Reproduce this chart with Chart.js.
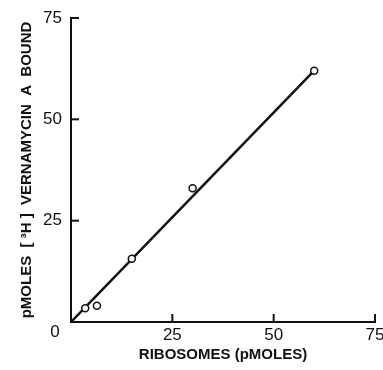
<!DOCTYPE html>
<html>
<head>
<meta charset="utf-8">
<script src="https://cdn.jsdelivr.net/npm/chart.js@4.4.1/dist/chart.umd.min.js"></script>
<style>
  html, body { margin: 0; padding: 0; background: #fff; }
  #wrap { width: 383px; height: 370px; }
</style>
</head>
<body>
<div id="wrap"><canvas id="bindChart" width="383" height="370"></canvas></div>
<script>
// ribosomes (pmoles) vs [3H] vernamycin A bound (pmoles)
var ribosomes = [3.5, 6.4, 15, 30, 60];
var boundVA = [3.4, 4.0, 15.6, 33, 62];

// fitted line, drawn through the origin
var fitX = [0, 60];
var fitY = [0, 62];

var tickVals = [0, 25, 50, 75];

var font = "'Liberation Sans', Arial, sans-serif";

// small inward tick marks + the shared "0" at the corner
var axisMarks = {
  id: 'axisMarks',
  afterDraw: function(chart) {
    var ctx = chart.ctx;
    var xs = chart.scales.x, ys = chart.scales.y;
    var x0 = xs.getPixelForValue(0), y0 = ys.getPixelForValue(0);
    ctx.save();
    ctx.strokeStyle = '#111';
    ctx.lineWidth = 2;
    tickVals.forEach(function(v) {
      if (v === 0) return;
      var px = xs.getPixelForValue(v);
      ctx.beginPath(); ctx.moveTo(px, y0); ctx.lineTo(px, y0 - 8); ctx.stroke();
      var py = ys.getPixelForValue(v);
      ctx.beginPath(); ctx.moveTo(x0, py); ctx.lineTo(x0 + 8, py); ctx.stroke();
    });
    ctx.fillStyle = '#111';
    ctx.font = '17px ' + font;
    ctx.textAlign = 'center';
    ctx.textBaseline = 'middle';
    ctx.fillText('0', x0 - 16, y0 + 10);
    ctx.restore();
  }
};

var ctx = document.getElementById('bindChart').getContext('2d');
var bindChart = new Chart(ctx, {
  type: 'scatter',
  data: {
    datasets: [{
      type: 'line',
      data: fitX.map(function(x, i) { return { x: x, y: fitY[i] }; }),
      borderColor: '#111',
      borderWidth: 2.5,
      pointRadius: 0,
      fill: false,
      order: 2
    }, {
      data: ribosomes.map(function(x, i) { return { x: x, y: boundVA[i] }; }),
      backgroundColor: '#fff',
      borderColor: '#111',
      borderWidth: 1.5,
      pointRadius: 3.5,
      order: 1
    }]
  },
  options: {
    responsive: false,
    animation: false,
    layout: { padding: { top: 18, right: 8, bottom: 0, left: 0 } },
    plugins: { legend: { display: false }, tooltip: { enabled: false } },
    scales: {
      x: {
        type: 'linear', min: 0, max: 75,
        afterFit: function(s) { s.height = 48; s.paddingLeft = 0; s.paddingRight = 0; },
        afterBuildTicks: function(s) { s.ticks = tickVals.map(function(v) { return { value: v }; }); },
        grid: { display: false, drawTicks: false },
        border: { color: '#111', width: 2 },
        ticks: {
          color: '#111', font: { family: font, size: 17 }, padding: 3, maxRotation: 0,
          callback: function(v) { return v === 0 ? '' : v; }
        },
        title: {
          display: true, text: 'RIBOSOMES (pMOLES)', color: '#111',
          font: { family: font, size: 15, weight: 'bold' },
          padding: { top: 0, bottom: 6 }
        }
      },
      y: {
        type: 'linear', min: 0, max: 75,
        afterFit: function(s) { s.width = 71; s.paddingTop = 0; s.paddingBottom = 0; },
        afterBuildTicks: function(s) { s.ticks = tickVals.map(function(v) { return { value: v }; }); },
        grid: { display: false, drawTicks: false },
        border: { color: '#111', width: 2 },
        ticks: {
          color: '#111', font: { family: font, size: 17 }, padding: 9,
          callback: function(v) { return v === 0 ? '' : v; }
        },
        title: {
          display: true, text: 'pMOLES  [ ³H ]  VERNAMYCIN  A  BOUND', color: '#111',
          font: { family: font, size: 15, weight: 'bold' },
          padding: { top: 18, bottom: 0 }
        }
      }
    }
  },
  plugins: [axisMarks]
});
</script>
</body>
</html>
